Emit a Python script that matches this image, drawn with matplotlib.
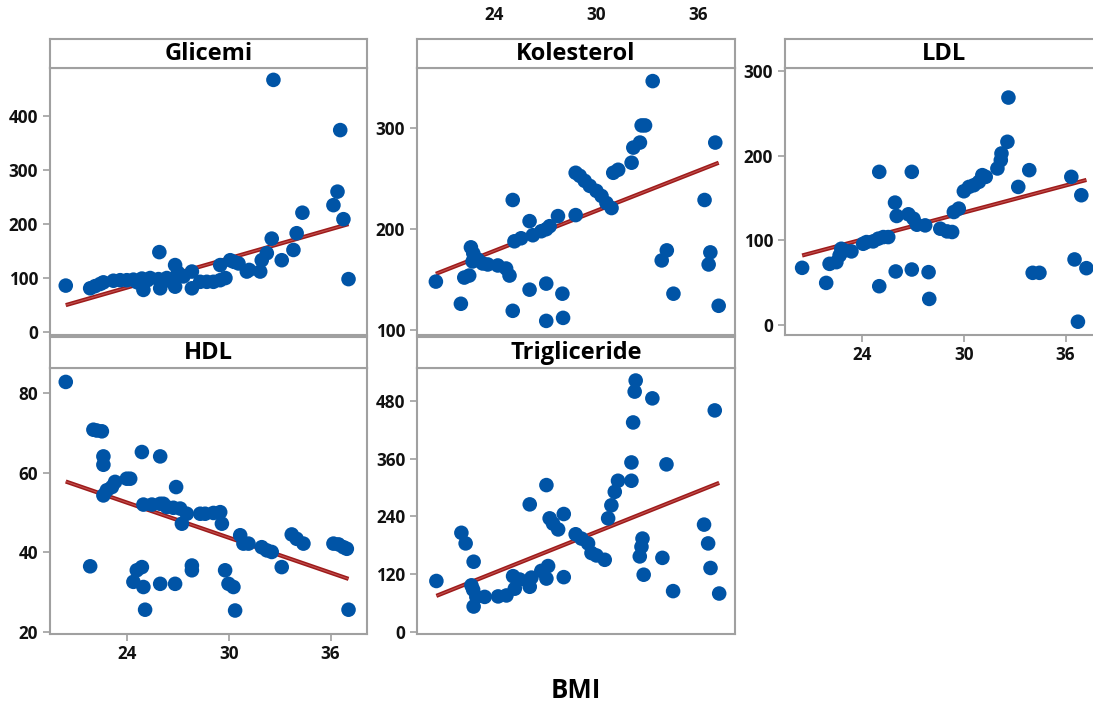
import matplotlib
matplotlib.use("Agg")
import matplotlib.pyplot as plt
import numpy as np

plt.rcParams['font.family'] = ['Open Sans', 'DejaVu Sans']

W, H = 1093, 706

# ---------------- data ----------------
glicemi_bmi = [20.38, 21.82, 22.11, 22.41, 22.6, 23.19, 23.59, 23.98, 24.37, 24.6, 24.87, 24.96,
               25.2, 25.36, 25.85, 25.95, 25.9, 26.34, 26.5, 26.83, 26.83, 26.93, 27.0, 27.32,
               27.82, 27.82, 28.31, 28.7, 29.09, 29.49, 29.49, 29.8, 30.08, 30.3, 30.57, 31.06,
               31.2, 31.85, 31.94, 32.24, 32.53, 32.63, 33.12, 33.81, 34.0, 34.34, 36.17, 36.41,
               36.57, 36.76, 37.06]
glicemi_val = [86, 81, 85, 89, 92, 95, 96, 96, 97, 92, 99, 78,
               96, 100, 98, 81, 148, 100, 95, 124, 84, 101, 110, 103,
               112, 81, 93, 93, 93, 96, 124, 100, 133, 130, 127, 112,
               115, 112, 133, 146, 173, 467, 133, 152, 183, 221, 235, 260,
               374, 209, 98]

kolesterol_bmi = [20.56, 22.03, 22.23, 22.52, 22.62, 22.76, 22.72, 23.02, 23.31, 23.61, 24.2, 24.69,
                  24.89, 25.08, 25.08, 25.18, 25.57, 26.07, 26.07, 26.26, 26.76, 27.05, 27.25, 27.05,
                  27.05, 27.74, 28.0, 28.04, 28.78, 28.78, 29.02, 29.31, 29.61, 30.0, 30.3, 30.59,
                  30.89, 30.99, 31.28, 32.07, 32.17, 32.56, 32.66, 32.86, 33.31, 33.84, 34.14, 34.53,
                  36.36, 36.6, 36.7, 36.99, 37.19]
kolesterol_val = [148, 126, 152, 154, 182, 176, 168, 170, 166, 165, 164, 161,
                  154, 229, 119, 188, 191, 208, 140, 194, 198, 200, 203, 146,
                  109, 213, 136, 112, 214, 256, 253, 248, 243, 238, 233, 226,
                  221, 256, 259, 266, 281, 286, 303, 303, 347, 169, 179, 136,
                  229, 165, 177, 286, 124]

ldl_bmi = [20.46, 21.88, 22.08, 22.48, 22.67, 22.77, 22.97, 23.37, 24.06, 24.26, 24.65, 24.95,
           25.25, 25.54, 25.01, 25.01, 25.94, 26.04, 25.98, 26.73, 26.93, 26.93, 27.03, 27.23,
           27.72, 27.92, 27.96, 28.61, 29.01, 29.31, 29.41, 29.7, 30.0, 30.3, 30.59, 30.89,
           31.09, 31.29, 31.98, 32.18, 32.22, 32.57, 32.63, 33.21, 33.86, 34.06, 34.46, 36.34,
           36.53, 36.73, 36.93, 37.23]
ldl_val = [67.5, 49.7, 72.2, 74.2, 82.1, 90, 88, 86.9, 95.9, 97.9, 98.7, 101.9,
           103.8, 103.8, 180.8, 45.8, 144.5, 128.7, 63.2, 130.7, 180.8, 65.5, 125.5, 118.4,
           117.6, 62.4, 30.8, 113.7, 110.5, 109.8, 133.4, 137.4, 157.9, 163, 165, 169,
           176.9, 174.9, 184.8, 194.6, 202.5, 216.3, 268.5, 163, 182.8, 61.6, 61.6, 174.9,
           77.4, 3.9, 153.2, 67.1]

hdl_bmi = [20.38, 22.01, 22.21, 22.51, 21.82, 22.6, 22.6, 22.6, 22.8, 23.1, 23.29, 23.98,
           24.18, 24.87, 24.96, 25.46, 25.95, 26.14, 24.57, 24.37, 24.87, 24.96, 25.06, 25.95,
           25.95, 26.34, 26.73, 27.13, 26.89, 27.23, 27.52, 26.83, 27.82, 27.82, 28.31, 28.6,
           29.09, 29.49, 29.59, 29.78, 29.98, 30.27, 30.37, 30.67, 30.86, 31.16, 31.94, 32.24,
           32.53, 33.12, 33.71, 34.0, 34.4, 36.17, 36.47, 36.76, 36.96, 37.06]
hdl_val = [82.8, 70.8, 70.6, 70.4, 36.5, 64.1, 62.0, 54.3, 55.6, 56.4, 57.7, 58.5,
           58.5, 65.2, 52.0, 52.0, 52.2, 52.2, 35.5, 32.6, 36.3, 31.3, 25.6, 64.1,
           32.1, 51.4, 51.2, 51.0, 56.4, 47.2, 49.7, 32.1, 36.7, 35.5, 49.7, 49.7,
           49.9, 50.1, 47.2, 35.5, 32.1, 31.3, 25.4, 44.3, 42.2, 42.2, 41.3, 40.5,
           40.1, 36.3, 44.5, 43.4, 42.2, 42.2, 42.0, 41.3, 40.9, 25.6]

trig_bmi = [20.59, 22.06, 22.31, 22.78, 22.65, 22.75, 22.78, 22.94, 23.43, 24.22, 24.71, 25.1,
            25.2, 25.49, 26.08, 26.08, 26.18, 26.76, 27.06, 27.16, 27.06, 27.25, 27.45, 27.75,
            28.08, 28.08, 28.78, 29.12, 29.51, 29.71, 30.0, 30.49, 30.69, 30.88, 31.08, 31.27,
            32.06, 32.06, 32.16, 32.25, 32.31, 32.55, 32.65, 32.71, 32.78, 33.29, 33.88, 34.12,
            34.51, 36.33, 36.57, 36.71, 36.96, 37.22]
trig_val = [106, 206, 184, 146, 97, 88, 53, 73, 73, 74, 76, 116,
            90, 109, 265, 94, 113, 127, 111, 137, 305, 236, 225, 213,
            245, 114, 203, 194, 184, 164, 159, 150, 236, 263, 291, 314,
            314, 352, 435, 499, 522, 157, 177, 194, 119, 485, 154, 348,
            85, 223, 184, 133, 460, 80]

# fitted regression lines (intercept, slope)
fit_glicemi = (-133.6, 9.0)
fit_kolesterol = (19.4, 6.63)
fit_ldl = (-26.8, 5.32)
fit_hdl = (87.67, -1.466)
fit_trig = (-215.2, 14.1)

titles = ["Glicemi", "Kolesterol", "LDL", "HDL", "Trigliceride"]
x_ticks = [24, 30, 36]
y_ticks = {
    "Glicemi": [0, 100, 200, 300, 400],
    "Kolesterol": [100, 200, 300],
    "LDL": [0, 100, 200, 300],
    "HDL": [20, 40, 60, 80],
    "Trigliceride": [0, 120, 240, 360, 480],
}
y_lims = {
    "Glicemi": (-5.5, 489),
    "Kolesterol": (95, 360),
    "LDL": (-11.8, 303.4),
    "HDL": (19.5, 86.3),
    "Trigliceride": (-4, 548),
}
x_lim = (19.45, 38.15)

series = {
    "Glicemi": (glicemi_bmi, glicemi_val, fit_glicemi),
    "Kolesterol": (kolesterol_bmi, kolesterol_val, fit_kolesterol),
    "LDL": (ldl_bmi, ldl_val, fit_ldl),
    "HDL": (hdl_bmi, hdl_val, fit_hdl),
    "Trigliceride": (trig_bmi, trig_val, fit_trig),
}

# ---------------- layout (pixel boxes) ----------------
cols = [(50, 367), (417, 735), (785, 1102)]
plot_rows = [(68, 335), (368, 634)]
head_rows = [(39, 68), (337, 368)]
positions = {"Glicemi": (0, 0), "Kolesterol": (0, 1), "LDL": (0, 2),
             "HDL": (1, 0), "Trigliceride": (1, 1)}
xlabels_where = {"Kolesterol": "top", "LDL": "bottom", "HDL": "bottom"}

GRAY = "#a0a0a0"
BLUE = "#0054a6"
RED = "#9e1b1b"
TICK_FONT = dict(family=["Open Sans", "DejaVu Sans"], weight="bold", size=12.3)


def rect(x0, y0, x1, y1):
    return [x0 / W, 1 - y1 / H, (x1 - x0) / W, (y1 - y0) / H]


def style_labels(labels):
    for lab in labels:
        lab.set_fontfamily(TICK_FONT["family"])
        lab.set_fontweight(TICK_FONT["weight"])
        lab.set_fontsize(TICK_FONT["size"])
        lab.set_color("#111111")


fig = plt.figure(figsize=(W / 100, H / 100), dpi=100)

for name in titles:
    r, c = positions[name]
    x0, x1 = cols[c]
    py0, py1 = plot_rows[r]
    hy0, hy1 = head_rows[r]

    ax = fig.add_axes(rect(x0, py0, x1, py1))
    bmi, val, (b0, b1) = series[name]
    ax.scatter(bmi, val, s=110, color=BLUE, edgecolors="none", zorder=3, clip_on=False)
    xs = np.array([min(bmi), max(bmi)])
    ys = b0 + b1 * xs
    ax.plot(xs, ys, color=RED, lw=3.0, zorder=2, solid_capstyle="butt")
    ax.plot(xs, ys, color="#c0504d", lw=0.8, zorder=2, solid_capstyle="butt")
    ax.set_xlim(*x_lim)
    ax.set_ylim(*y_lims[name])
    ax.set_yticks(y_ticks[name])
    ax.set_xticks(x_ticks)
    for sp in ax.spines.values():
        sp.set_color(GRAY)
        sp.set_linewidth(1.5)
    ax.tick_params(axis="y", direction="out", length=5, width=1.2, color=GRAY, pad=3.5)
    style_labels(ax.get_yticklabels())
    where = xlabels_where.get(name)
    if where == "bottom":
        ax.tick_params(axis="x", direction="out", length=5, width=1.2, color=GRAY,
                       pad=3, bottom=True, labelbottom=True)
        style_labels(ax.get_xticklabels())
    else:
        ax.tick_params(axis="x", bottom=False, labelbottom=False)

    if where == "top":
        tax = fig.add_axes(rect(x0, hy0, x1, hy1), frameon=False)
        tax.set_xlim(*x_lim)
        tax.set_yticks([])
        tax.set_xticks(x_ticks)
        tax.tick_params(axis="x", top=False, bottom=False, labelbottom=False,
                        labeltop=True, pad=7)
        style_labels(tax.get_xticklabels())

    hax = fig.add_axes(rect(x0, hy0, x1, hy1))
    hax.set_xticks([])
    hax.set_yticks([])
    hax.patch.set_facecolor("white")
    for sp in hax.spines.values():
        sp.set_color(GRAY)
        sp.set_linewidth(1.5)
    hax.text(0.5, 0.47, name, ha="center", va="center", fontsize=17,
             fontweight="bold", transform=hax.transAxes)

fig.text(576 / W, 1 - 690 / H, "BMI", ha="center", va="center",
         fontsize=18.5, fontweight="bold")

fig.savefig("out.png", dpi=100)
